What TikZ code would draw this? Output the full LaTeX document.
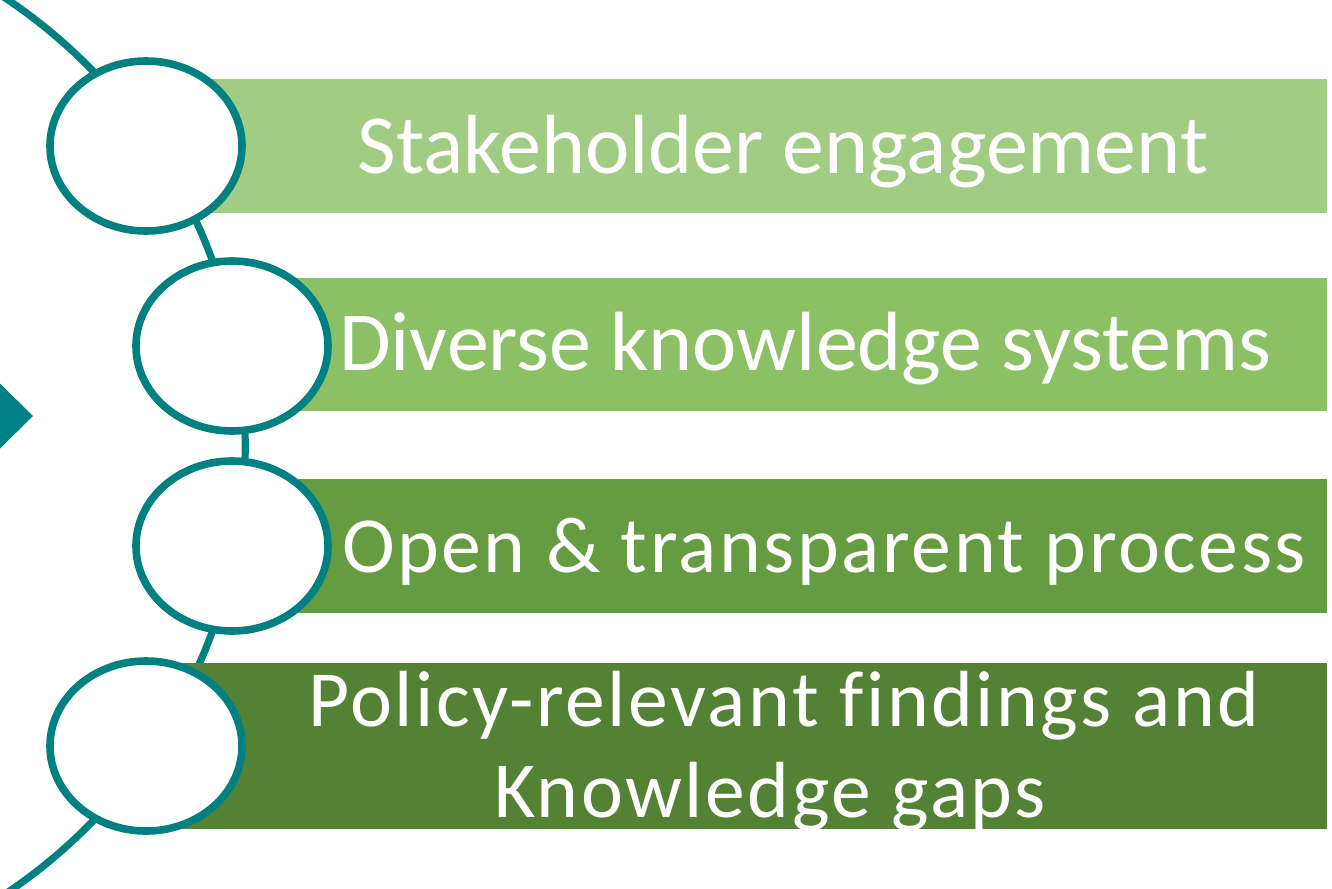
\documentclass[tikz,border=0pt]{standalone}
\usepackage{fontspec}
\usetikzlibrary{shapes.geometric}
\setmainfont[Ligatures=NoCommon]{Carlito}
\newfontfamily\lightfont[LetterSpace=3.2,Ligatures=NoCommon]{Carlito}
\definecolor{teal0}{RGB}{0,128,128}
\definecolor{barA}{RGB}{161,204,131}
\definecolor{barB}{RGB}{139,192,100}
\definecolor{barC}{RGB}{101,156,65}
\definecolor{barD}{RGB}{84,130,53}
\begin{document}
\begin{tikzpicture}[x=0.5pt,y=-0.5pt,
  bar/.style={fill=#1, draw=none},
  ring/.style={ellipse, draw=teal0, line width=3.8pt, fill=white,
    minimum width=96pt, minimum height=85pt, inner sep=0pt},
  label/.style={text=white, anchor=base, inner sep=0pt},
  spine/.style={draw=teal0, line width=3.6pt}]
\useasboundingbox (0,0) rectangle (1332,888);
\clip (0,0) rectangle (1332,888);

% sweeping spine behind everything
\draw[spine] (-292.8,446) circle[radius=269pt];

% pointer on the left edge
\fill[teal0] (-33,416) -- (0,383.5) -- (33,416) -- (0,448.5) -- cycle;

% coloured bars
\fill[bar=barA] (146,79)  rectangle (1327,213);
\fill[bar=barB] (232,278) rectangle (1327,411);
\fill[bar=barC] (232,479) rectangle (1327,613);
\fill[bar=barD] (146,663) rectangle (1327,829);

% rings
\node[ring] (e1) at (146,146) {};
\node[ring] (e2) at (232,346) {};
\node[ring] (e3) at (232,546) {};
\node[ring] (e4) at (146,746) {};

% labels
\node[label, font=\fontsize{42}{46}\selectfont] (t1) at (783,173) {Stakeholder engagement};
\node[label, font=\fontsize{42}{46}\selectfont] (t2) at (805,370) {Diverse knowledge systems};
\node[label, font=\lightfont\fontsize{39.8}{44}\selectfont] (t3) at (824,572) {Open \& transparent process};
\node[label, font=\lightfont\fontsize{39.8}{44}\selectfont] (t4a) at (784,726) {Policy-relevant findings and};
\node[label, font=\lightfont\fontsize{39.8}{44}\selectfont] (t4b) at (770,817) {Knowledge gaps};
\end{tikzpicture}
\end{document}
